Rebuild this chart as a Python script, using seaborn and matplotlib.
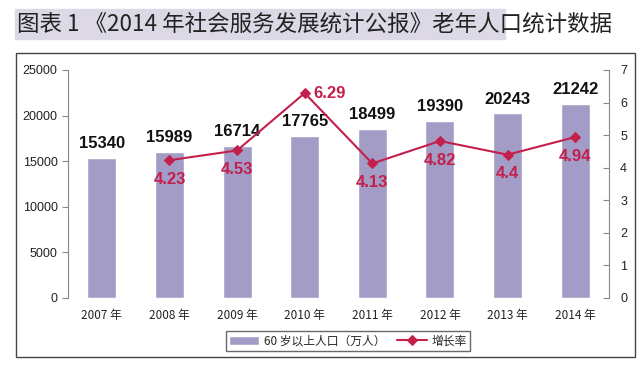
import numpy as np
import matplotlib
matplotlib.use("Agg")
import matplotlib.pyplot as plt
import matplotlib.patches as patches
import seaborn as sns
import pandas as pd

years = ["2007 年", "2008 年", "2009 年", "2010 年", "2011 年", "2012 年", "2013 年", "2014 年"]
elderly = [15340, 15989, 16714, 17765, 18499, 19390, 20243, 21242]
growth_years = ["2008 年", "2009 年", "2010 年", "2011 年", "2012 年", "2013 年", "2014 年"]
growth = [4.23, 4.53, 6.29, 4.13, 4.82, 4.4, 4.94]

sns.set_style("white")
plt.rcParams["font.family"] = ["Noto Sans CJK SC", "DejaVu Sans"]

BAR_COLOR = "#a39cc6"
LINE_COLOR = "#c41f4b"
NUM_FONT = "Liberation Sans"

fig = plt.figure(figsize=(6.4, 3.67), dpi=100)

# title with highlighted background
fig.patches.append(patches.Rectangle((15 / 640, 1 - 39 / 367), 490 / 640, 30 / 367,
                                     transform=fig.transFigure, color="#dcd8e6", zorder=0))
fig.text(17 / 640, 1 - 24 / 367, "图表 1 《2014 年社会服务发展统计公报》老年人口统计数据",
         fontsize=16.2, va="center", ha="left", color="#222222")

# outer chart frame
fig.patches.append(patches.Rectangle((16 / 640, 1 - 357 / 367), 619 / 640, 304 / 367,
                                     transform=fig.transFigure, fill=False,
                                     edgecolor="#444444", linewidth=1.0))

ax = fig.add_axes([68 / 640, 1 - 298 / 367, 541 / 640, 228 / 367])
df = pd.DataFrame({"year": years, "value": elderly})
sns.barplot(data=df, x="year", y="value", color=BAR_COLOR, saturation=1,
            width=0.43, ax=ax, label="60 岁以上人口（万人）")
ax.set_ylim(0, 25000)
ax.set_yticks(np.arange(0, 25001, 5000))
ax.set_xlim(-0.5, len(years) - 0.5)
ax.set_xlabel("")
ax.set_ylabel("")
for s in ["top", "right", "bottom"]:
    ax.spines[s].set_visible(False)
ax.spines["left"].set_color("#888888")
ax.spines["left"].set_linewidth(0.8)
ax.tick_params(axis="y", length=4, color="#888888", labelsize=9, labelcolor="#222222")
ax.tick_params(axis="x", length=0, labelsize=8.5, labelcolor="#222222", pad=8)
ax.set_xticks(np.arange(0.5, len(years) - 1, 1), minor=True)
ax.tick_params(axis="x", which="minor", length=2, color="#999999", direction="in")
for lab in ax.get_yticklabels():
    lab.set_family(NUM_FONT)

for i, v in enumerate(elderly):
    ax.text(i, v + 750, str(v), ha="center", va="bottom", fontsize=12,
            fontweight="bold", color="#111111", family=NUM_FONT)

ax2 = ax.twinx()
gdf = pd.DataFrame({"x": [years.index(y) for y in growth_years], "g": growth})
sns.lineplot(data=gdf, x="x", y="g", color=LINE_COLOR, marker="D", markersize=5,
             markeredgecolor=LINE_COLOR, linewidth=1.5, ax=ax2, label="增长率")
ax2.set_ylim(0, 7)
ax2.set_yticks(range(0, 8))
ax2.set_xlim(-0.5, len(years) - 0.5)
ax2.set_ylabel("")
ax2.set_xlabel("")
for s in ["top", "left", "bottom"]:
    ax2.spines[s].set_visible(False)
ax2.spines["right"].set_color("#888888")
ax2.spines["right"].set_linewidth(0.8)
ax2.tick_params(axis="y", length=4, direction="in", color="#888888", labelsize=9,
                labelcolor="#222222", pad=8)
for lab in ax2.get_yticklabels():
    lab.set_family(NUM_FONT)

for x, g in zip(gdf["x"], growth):
    if g == max(growth):
        ax2.text(x + 0.13, g, f"{g:g}", ha="left", va="center", fontsize=12,
                 fontweight="bold", color=LINE_COLOR, family=NUM_FONT)
    else:
        ax2.text(x, g - 0.36, f"{g:g}", ha="center", va="top", fontsize=12,
                 fontweight="bold", color=LINE_COLOR, family=NUM_FONT)

h1, l1 = ax.get_legend_handles_labels()
h2, l2 = ax2.get_legend_handles_labels()
if ax2.get_legend():
    ax2.get_legend().remove()
if ax.get_legend():
    ax.get_legend().remove()
fig.legend(h1 + h2, l1 + l2, loc="center", bbox_to_anchor=(348 / 640, 1 - 341 / 367),
           ncol=2, fontsize=8.5, frameon=True, fancybox=False, edgecolor="#444444",
           handlelength=2.5, borderpad=0.3, columnspacing=1.0, handletextpad=0.4)

fig.savefig("out.png", dpi=100)
